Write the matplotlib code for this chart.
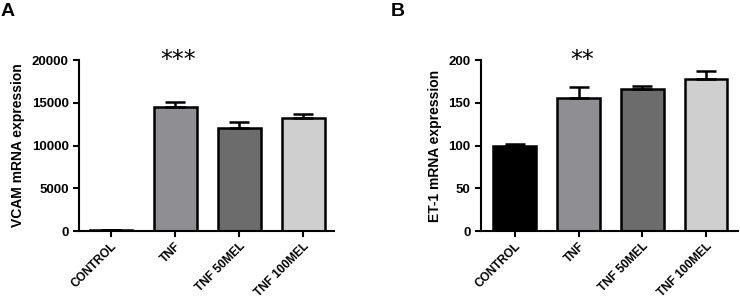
import matplotlib
matplotlib.use("Agg")
import matplotlib.pyplot as plt

categories = ["CONTROL", "TNF", "TNF 50MEL", "TNF 100MEL"]
vcam_mean = [100, 14500, 12050, 13200]
vcam_err = [30, 550, 750, 500]
et1_mean = [100, 155.6, 165.7, 177.8]
et1_err = [1.8, 12.8, 3.9, 9.7]
bar_colors = ["#000000", "#8e8e93", "#6c6c6c", "#cfcfcf"]

plt.rcParams['font.family'] = ['Liberation Sans', 'DejaVu Sans']

fig = plt.figure(figsize=(7.4, 3.0), dpi=100)
W, H = 740, 300

def make_ax(x0, x1, y0, y1):
    return fig.add_axes([x0 / W, 1 - y1 / H, (x1 - x0) / W, (y1 - y0) / H])

axA = make_ax(79, 334, 60, 231)
axB = make_ax(481, 738, 60, 231)

def draw(ax, means, errs, ymax, yticks, ylabel, stars, xlim):
    x = list(range(len(categories)))
    ax.bar(x, means, width=0.67, color=bar_colors, edgecolor="black", linewidth=1.8, zorder=2)
    ax.errorbar(x, means, yerr=[[0] * len(errs), errs], fmt="none", ecolor="black",
                elinewidth=1.8, capsize=7, capthick=1.8, zorder=3)
    ax.set_ylim(0, ymax)
    ax.set_xlim(*xlim)
    ax.set_yticks(yticks)
    ax.set_yticklabels([str(t) for t in yticks], fontsize=9.5, fontweight="bold")
    ax.set_xticks(x)
    ax.set_xticklabels(categories, rotation=45, ha="right", rotation_mode="anchor",
                       fontsize=8.6, fontweight="bold")
    ax.set_ylabel(ylabel, fontsize=10, fontweight="bold", labelpad=5)
    for s in ["top", "right"]:
        ax.spines[s].set_visible(False)
    for s in ["left", "bottom"]:
        ax.spines[s].set_linewidth(1.5)
    ax.tick_params(axis="both", direction="out", width=1.5, length=4)
    ax.tick_params(axis="x", pad=2.5)
    ax.text(1.05, ymax * 1.0, stars, ha="center", va="center", fontsize=17,
            family="DejaVu Sans", clip_on=False)

draw(axA, vcam_mean, vcam_err, 20000, [0, 5000, 10000, 15000, 20000],
     "VCAM mRNA expression", "***", (-0.5, 3.48))
draw(axB, et1_mean, et1_err, 200, [0, 50, 100, 150, 200],
     "ET-1 mRNA expression", "**", (-0.53, 3.5))

fig.text(1 / W, 1 - 3 / H, "A", fontsize=14, fontweight="bold", va="top", ha="left")
fig.text(391 / W, 1 - 3 / H, "B", fontsize=14, fontweight="bold", va="top", ha="left")

fig.savefig("out.png", dpi=100)
